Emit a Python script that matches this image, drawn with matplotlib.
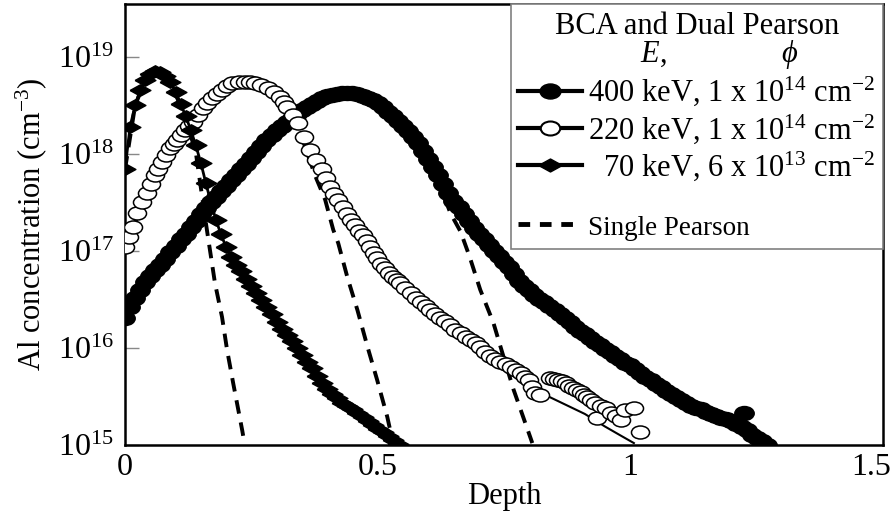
#Al implant profiles: BCA / dual Pearson vs single Pearson

import numpy as np
import matplotlib
matplotlib.use('Agg')
import matplotlib.pyplot as plt
from matplotlib.lines import Line2D
from matplotlib.path import Path
from matplotlib.transforms import Affine2D, ScaledTranslation
from matplotlib.ticker import LogLocator, NullLocator, FixedLocator, FixedFormatter

plt.rcParams['font.family'] = ['Liberation Serif', 'DejaVu Serif']
plt.rcParams['mathtext.fontset'] = 'custom'
plt.rcParams['mathtext.rm'] = 'Liberation Serif'
plt.rcParams['mathtext.it'] = 'Liberation Serif:italic'
plt.rcParams['mathtext.bf'] = 'Liberation Serif:bold'

# 70 keV, 6e13 cm^-2 (BCA, diamonds) - depth, log10(conc)
d70 = [0.00, 0.01, 0.02, 0.03, 0.04, 0.05, 0.06, 0.07, 0.08, 0.09,
       0.10, 0.11, 0.12, 0.13, 0.14, 0.15, 0.16, 0.17, 0.18, 0.19,
       0.20, 0.21, 0.22, 0.23, 0.24, 0.25, 0.26, 0.27, 0.28, 0.29,
       0.30, 0.31, 0.32, 0.33, 0.34, 0.35, 0.36, 0.37, 0.38, 0.39,
       0.40, 0.41, 0.42, 0.43, 0.44, 0.45, 0.46, 0.47, 0.48, 0.49,
       0.50, 0.51, 0.52, 0.53, 0.54]
l70 = [17.84, 18.28, 18.50, 18.66, 18.76, 18.82, 18.86, 18.85, 18.80, 18.74,
       18.64, 18.52, 18.39, 18.25, 18.09, 17.91, 17.70, 17.50, 17.32, 17.17,
       17.04, 16.94, 16.86, 16.79, 16.71, 16.64, 16.57, 16.49, 16.42, 16.35,
       16.27, 16.20, 16.13, 16.07, 16.00, 15.93, 15.86, 15.79, 15.71, 15.64,
       15.58, 15.53, 15.48, 15.43, 15.40, 15.37, 15.33, 15.29, 15.25, 15.21,
       15.17, 15.13, 15.09, 15.05, 15.01]

# 220 keV, 1e14 cm^-2 (BCA, open circles)
d220 = [0.000, 0.008, 0.016, 0.024, 0.034, 0.044, 0.052, 0.059, 0.066, 0.073,
        0.081, 0.089, 0.096, 0.103, 0.111, 0.119, 0.127, 0.135, 0.145, 0.155,
        0.163, 0.172, 0.182, 0.192, 0.202, 0.212, 0.225, 0.238, 0.248, 0.258,
        0.270, 0.283, 0.295, 0.307, 0.314, 0.321, 0.332, 0.343, 0.355, 0.367,
        0.378, 0.390, 0.398, 0.406, 0.414, 0.422, 0.431, 0.440, 0.448, 0.456,
        0.463, 0.470, 0.478, 0.485, 0.492, 0.499, 0.507, 0.515, 0.523, 0.531,
        0.538, 0.545, 0.555, 0.565, 0.575, 0.585, 0.595, 0.604, 0.614, 0.624,
        0.634, 0.644, 0.654, 0.664, 0.674, 0.684, 0.694, 0.703, 0.713, 0.723,
        0.733, 0.743, 0.753, 0.763, 0.773, 0.783, 0.791, 0.799, 0.806, 0.812,
        0.822, 0.842, 0.849, 0.856, 0.864, 0.872, 0.879, 0.886, 0.894, 0.902,
        0.909, 0.915, 0.923, 0.931, 0.935, 0.941, 0.951, 0.961, 0.971, 0.981,
        0.990, 1.007, 1.020]
l220 = [17.04, 17.14, 17.25, 17.39, 17.50, 17.60, 17.69, 17.78, 17.85, 17.92,
        17.99, 18.06, 18.10, 18.14, 18.20, 18.25, 18.29, 18.33, 18.40, 18.47,
        18.53, 18.58, 18.62, 18.66, 18.70, 18.73, 18.74, 18.74, 18.74, 18.73,
        18.71, 18.68, 18.64, 18.59, 18.54, 18.48, 18.40, 18.32, 18.18, 18.04,
        17.94, 17.84, 17.75, 17.66, 17.59, 17.53, 17.45, 17.38, 17.32, 17.27,
        17.21, 17.16, 17.10, 17.04, 16.98, 16.93, 16.87, 16.82, 16.77, 16.73,
        16.70, 16.67, 16.62, 16.57, 16.52, 16.47, 16.43, 16.39, 16.35, 16.31,
        16.28, 16.24, 16.19, 16.15, 16.11, 16.08, 16.05, 16.01, 15.96, 15.92,
        15.89, 15.86, 15.83, 15.80, 15.77, 15.74, 15.70, 15.67, 15.60, 15.54,
        15.52, 15.69, 15.68, 15.67, 15.66, 15.64, 15.61, 15.59, 15.57, 15.55,
        15.52, 15.49, 15.46, 15.43, 15.28, 15.40, 15.38, 15.33, 15.30, 15.26,
        15.36, 15.38, 15.13]
# dual Pearson tail for 220 keV (thin solid line below the noisy BCA points)
d220_fit = [0.799, 0.830, 0.870, 0.910, 0.950, 0.980, 1.007]
l220_fit = [15.67, 15.52, 15.42, 15.32, 15.19, 15.10, 15.02]

# 400 keV, 1e14 cm^-2 (BCA, filled circles)
d400 = [0.00, 0.01, 0.02, 0.03, 0.04, 0.05, 0.06, 0.07, 0.08, 0.09,
        0.10, 0.11, 0.12, 0.13, 0.14, 0.15, 0.16, 0.17, 0.18, 0.19,
        0.20, 0.21, 0.22, 0.23, 0.24, 0.25, 0.26, 0.27, 0.28, 0.29,
        0.30, 0.31, 0.32, 0.33, 0.34, 0.35, 0.36, 0.37, 0.38, 0.39,
        0.40, 0.41, 0.42, 0.43, 0.44, 0.45, 0.46, 0.47, 0.48, 0.49,
        0.50, 0.51, 0.52, 0.53, 0.54, 0.55, 0.56, 0.57, 0.58, 0.59,
        0.60, 0.61, 0.62, 0.63, 0.64, 0.65, 0.66, 0.67, 0.68, 0.69,
        0.70, 0.71, 0.72, 0.73, 0.74, 0.75, 0.76, 0.77, 0.78, 0.79,
        0.80, 0.81, 0.82, 0.83, 0.84, 0.85, 0.86, 0.87, 0.88, 0.89,
        0.90, 0.91, 0.92, 0.93, 0.94, 0.95, 0.96, 0.97, 0.98, 0.99,
        1.00, 1.01, 1.02, 1.03, 1.04, 1.05, 1.06, 1.07, 1.08, 1.09,
        1.10, 1.11, 1.12, 1.13, 1.14, 1.15, 1.16, 1.17, 1.18, 1.19,
        1.20, 1.21, 1.22, 1.23, 1.24, 1.25, 1.26, 1.27]
l400 = [16.31, 16.42, 16.52, 16.60, 16.68, 16.74, 16.80, 16.86, 16.92, 16.99,
        17.05, 17.12, 17.18, 17.25, 17.31, 17.38, 17.44, 17.50, 17.56, 17.62,
        17.67, 17.73, 17.78, 17.84, 17.90, 17.96, 18.02, 18.08, 18.14, 18.20,
        18.25, 18.29, 18.33, 18.37, 18.41, 18.45, 18.48, 18.52, 18.55, 18.58,
        18.60, 18.61, 18.62, 18.63, 18.63, 18.63, 18.62, 18.60, 18.58, 18.56,
        18.53, 18.48, 18.43, 18.39, 18.34, 18.29, 18.24, 18.18, 18.11, 18.03,
        17.95, 17.87, 17.78, 17.69, 17.60, 17.52, 17.45, 17.38, 17.31, 17.24,
        17.18, 17.12, 17.06, 17.00, 16.95, 16.89, 16.83, 16.76, 16.69, 16.64,
        16.60, 16.55, 16.51, 16.47, 16.43, 16.39, 16.35, 16.31, 16.27, 16.22,
        16.18, 16.14, 16.10, 16.06, 16.03, 15.99, 15.96, 15.92, 15.89, 15.85,
        15.82, 15.78, 15.74, 15.70, 15.67, 15.63, 15.60, 15.56, 15.53, 15.49,
        15.46, 15.43, 15.40, 15.38, 15.37, 15.34, 15.32, 15.30, 15.28, 15.27,
        15.25, 15.22, 15.19, 15.15, 15.10, 15.07, 15.04, 15.00]
d400_extra = [1.225]
l400_extra = [15.33]

# single Pearson (dashed)
sp70_d = [0.00, 0.02, 0.04, 0.06, 0.08, 0.10, 0.12, 0.14, 0.162, 0.178, 0.192, 0.202, 0.214, 0.232, 0.236]
sp70_l = [17.84, 18.50, 18.76, 18.86, 18.80, 18.62, 18.36, 18.02, 17.22, 16.67, 16.32, 15.98, 15.64, 15.15, 15.03]
sp220_d = [0.00, 0.05, 0.10, 0.15, 0.20, 0.25, 0.30, 0.34, 0.376, 0.396, 0.412, 0.422, 0.440, 0.460, 0.480, 0.499, 0.519, 0.527]
sp220_l = [17.04, 17.68, 18.12, 18.44, 18.69, 18.74, 18.63, 18.32, 17.78, 17.53, 17.22, 17.08, 16.73, 16.39, 16.01, 15.67, 15.29, 15.10]
sp400_d = [0.00, 0.10, 0.20, 0.30, 0.40, 0.44, 0.50, 0.56, 0.60, 0.62, 0.644, 0.664, 0.682, 0.703, 0.729, 0.749, 0.769, 0.802, 0.806]
sp400_l = [16.31, 17.05, 17.67, 18.25, 18.60, 18.63, 18.53, 18.24, 17.95, 17.72, 17.39, 17.20, 16.94, 16.60, 16.26, 15.91, 15.57, 15.08, 15.02]

xticks = [0, 0.5, 1, 1.5]
xticklabels = ['0', '0.5', '1', '1.5']

def c(v):
    return 10.0 ** np.array(v)

# marker shapes: flattened circle, wide diamond
ellipse = Affine2D().scale(1.0, 0.72).transform_path(Path.unit_circle())
wide_diamond = [(-1, 0), (0, 0.55), (1, 0), (0, -0.55), (-1, 0)]

fig = plt.figure(figsize=(8.91, 5.16), dpi=100)
ax = fig.add_axes([125/891, 1 - 445/516, (883 - 125)/891, (445 - 4)/516])

dash_kw = dict(color='k', lw=2.8, dashes=(3.5, 2.3), zorder=1)
ax.plot(sp70_d, c(sp70_l), **dash_kw)
ax.plot(sp220_d, c(sp220_l), **dash_kw)
ax.plot(sp400_d, c(sp400_l), **dash_kw)

ax.plot(d220_fit, c(l220_fit), 'k-', lw=1.5, zorder=2)
ax.plot(d400, c(l400), 'k-', lw=2, marker=ellipse, ms=14, mfc='k', mec='k', zorder=3)
ax.plot(d400_extra, c(l400_extra), ls='none', marker=ellipse, ms=14, color='k', zorder=3)
ax.plot(d220, c(l220), ls='none', marker=ellipse, ms=13, mfc='white', mec='k', mew=1.1, zorder=4)
ax.plot(d70, c(l70), 'k-', lw=2, marker=wide_diamond, ms=15, mfc='k', mec='k', zorder=5)

ax.set_yscale('log')
ax.set_xlim(0, 1.5)
ax.set_ylim(1e15, 10 ** 19.546)
ax.yaxis.set_major_locator(LogLocator(base=10, numticks=10))
ax.yaxis.set_minor_locator(NullLocator())
ax.xaxis.set_major_locator(FixedLocator(xticks))
ax.xaxis.set_major_formatter(FixedFormatter(xticklabels))
ax.tick_params(axis='y', direction='in', length=10, width=1, color='#888888', labelsize=23, pad=8)
ax.tick_params(axis='x', direction='in', length=0, labelsize=23, pad=6)
for s in ax.spines.values():
    s.set_linewidth(1.8)

last = ax.get_xticklabels()[-1]
last.set_ha('right')
last.set_transform(last.get_transform() + ScaledTranslation(8/100, 0, fig.dpi_scale_trans))

ax.set_xlabel('Depth', fontsize=22, labelpad=0)
ax.set_ylabel('Al concentration (cm$^{-3}$)', fontsize=22, labelpad=6)

handles = [
    Line2D([], [], color='k', lw=3, marker=ellipse, ms=15, mfc='k', mec='k'),
    Line2D([], [], color='k', lw=3, marker=ellipse, ms=14, mfc='white', mec='k', mew=1.5),
    Line2D([], [], color='k', lw=3, marker=wide_diamond, ms=17, mfc='k', mec='k'),
    Line2D([], [], color='none'),
    Line2D([], [], color='k', lw=3.5, dashes=(2.4, 2.0)),
]
labels = [
    '400 keV, 1 x 10$^{14}$ cm$^{-2}$',
    '220 keV, 1 x 10$^{14}$ cm$^{-2}$',
    '  70 keV, 6 x 10$^{13}$ cm$^{-2}$',
    ' ',
    'Single Pearson',
]
leg = ax.legend(handles, labels, loc='upper right', borderaxespad=0, fancybox=False,
                edgecolor='#808080', framealpha=1, fontsize=22, handlelength=2.1,
                handletextpad=0.2, labelspacing=0.12, borderpad=0.25,
                title='BCA and Dual Pearson\n      $E$,               $\\phi$',
                title_fontsize=22)
leg.get_frame().set_linewidth(1.2)
leg.get_title().set_linespacing(0.9)
leg.get_title().set_multialignment('center')
leg.get_texts()[3].set_fontsize(8)
leg.get_texts()[4].set_fontsize(19.5)
leg.set_zorder(10)

fig.savefig('out.png', dpi=100)
